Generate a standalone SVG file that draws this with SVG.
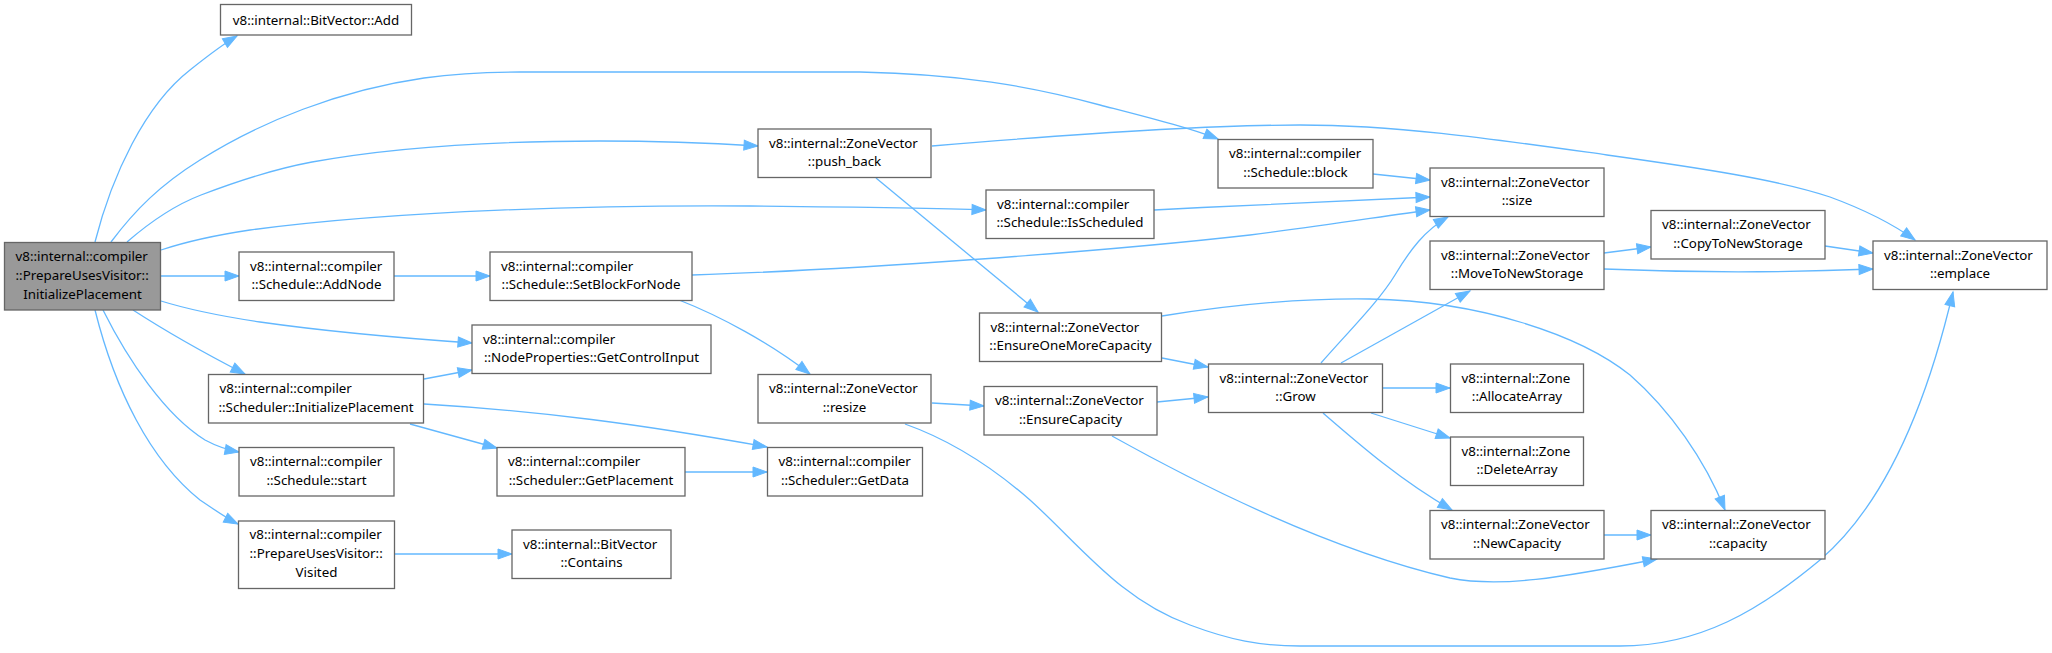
<svg xmlns="http://www.w3.org/2000/svg" width="2052" height="653" viewBox="0 0 2052 653">
<style>
rect.b{fill:#ffffff;stroke:#666666;stroke-width:1.3}
rect.m{fill:#999999;stroke:#666666;stroke-width:1.3}
text{font-family:"Noto Sans","DejaVu Sans",sans-serif;font-size:13.33px;fill:#000000}
text.c{text-anchor:middle}
#edges path{fill:none;stroke:#63b8ff;stroke-width:1.3;marker-end:url(#ah)}
</style>
<defs>
<marker id="ah" markerUnits="userSpaceOnUse" markerWidth="16" markerHeight="12" refX="14" refY="5" orient="auto" overflow="visible">
<path d="M0,0 L14,5 L0,10 Z" fill="#63b8ff" stroke="#63b8ff" stroke-width="1"/>
</marker>
</defs>
<rect width="2052" height="653" fill="#ffffff"/>
<g id="edges">
<path d="M95,242 C112,175 145,105 190,70 C205,58 220,46 237,36"/>
<path d="M111,242 C135,210 160,185 200,160 C260,122 340,90 424,78 C460,73 490,72 520,72 L860,72 C960,74 1030,86 1100,105 C1150,118 1190,128 1218,139"/>
<path d="M127,242 C150,222 175,205 201,195 C240,180 280,168 312,162 C400,146 500,141 600,141 C660,141 710,143 758,146"/>
<path d="M161,250 C185,242 210,236 250,230 C400,210 600,205 750,206 C850,207 930,208 986,210"/>
<path d="M161,276 L239,276"/>
<path d="M161,301 C190,310 220,316 260,322 C330,332 400,338 472,343"/>
<path d="M133,310 C170,334 210,356 245,374"/>
<path d="M103,310 C128,360 165,415 205,440 C218,447 228,450 239,452"/>
<path d="M95,310 C115,390 150,460 200,500 C215,510 226,518 238,524"/>
<path d="M394,276 L490,276"/>
<path d="M692,275 C850,270 1100,252 1250,235 C1330,225 1390,215 1430,210"/>
<path d="M679,300 C720,316 770,343 810,374"/>
<path d="M424,379 L472,370"/>
<path d="M424,404 C540,411 640,424 767,447"/>
<path d="M410,424 L497,448"/>
<path d="M685,472 L767,472"/>
<path d="M395,554 L512,554"/>
<path d="M932,146 C1050,136 1200,125 1300,125 C1400,125 1500,140 1607,155 C1700,168 1780,180 1830,197 C1860,208 1890,222 1915,240"/>
<path d="M876,178 L1038,312"/>
<path d="M1373,174 L1430,180"/>
<path d="M1154,210 C1250,205 1350,200 1430,197"/>
<path d="M1162,358 L1208,367"/>
<path d="M1162,316 C1230,305 1300,298 1370,299 C1480,301 1580,335 1630,375 C1670,410 1705,460 1725,510"/>
<path d="M932,403 L984,406"/>
<path d="M905,424 C950,440 990,465 1030,500 C1080,545 1120,600 1190,625 C1230,640 1260,646 1300,646 L1620,646 C1700,646 1760,610 1820,560 C1890,500 1930,390 1953,292"/>
<path d="M1157,402 L1208,397"/>
<path d="M1112,436 C1200,485 1330,550 1450,578 C1500,588 1560,578 1657,559"/>
<path d="M1321,363 C1350,330 1380,300 1395,275 C1410,250 1425,230 1448,217"/>
<path d="M1341,363 L1470,291"/>
<path d="M1383,388 L1450,388"/>
<path d="M1371,413 L1450,438"/>
<path d="M1323,413 C1360,445 1400,480 1452,510"/>
<path d="M1604,253 L1651,247"/>
<path d="M1604,269 C1700,273 1800,272 1873,269"/>
<path d="M1825,246 L1873,253"/>
<path d="M1604,535 L1651,535"/>
</g>
<g id="n_main"><rect class="m" x="4.5" y="242.5" width="156" height="67.5"/><text x="15.5" y="260.5">v8::internal::compiler</text><text x="15.5" y="279.5">::PrepareUsesVisitor::</text><text class="c" x="82.5" y="298.5">InitializePlacement</text></g>
<g id="n_add"><rect class="b" x="220.5" y="4.5" width="191" height="30.5"/><text class="c" x="316" y="24.5">v8::internal::BitVector::Add</text></g>
<g id="n_addnode"><rect class="b" x="239" y="252" width="155" height="48.5"/><text x="250" y="270.5">v8::internal::compiler</text><text class="c" x="316.5" y="289">::Schedule::AddNode</text></g>
<g id="n_setblock"><rect class="b" x="490" y="252" width="202" height="48.5"/><text x="501" y="270.5">v8::internal::compiler</text><text class="c" x="591" y="289">::Schedule::SetBlockForNode</text></g>
<g id="n_getctrl"><rect class="b" x="472" y="325" width="239" height="48.5"/><text x="483" y="343.5">v8::internal::compiler</text><text class="c" x="591.5" y="362">::NodeProperties::GetControlInput</text></g>
<g id="n_schedinit"><rect class="b" x="208.5" y="374.5" width="215" height="48.5"/><text x="219.5" y="393">v8::internal::compiler</text><text class="c" x="316" y="411.5">::Scheduler::InitializePlacement</text></g>
<g id="n_start"><rect class="b" x="239" y="447.5" width="155" height="48.5"/><text x="250" y="466">v8::internal::compiler</text><text class="c" x="316.5" y="484.5">::Schedule::start</text></g>
<g id="n_getplacement"><rect class="b" x="497" y="447.5" width="188" height="48.5"/><text x="508" y="466">v8::internal::compiler</text><text class="c" x="591" y="484.5">::Scheduler::GetPlacement</text></g>
<g id="n_visited"><rect class="b" x="238.5" y="521" width="156" height="67.5"/><text x="249.5" y="539">v8::internal::compiler</text><text x="249.5" y="558">::PrepareUsesVisitor::</text><text class="c" x="316.5" y="577">Visited</text></g>
<g id="n_contains"><rect class="b" x="512" y="530" width="159" height="48.5"/><text x="523" y="548.5">v8::internal::BitVector</text><text class="c" x="591.5" y="567">::Contains</text></g>
<g id="n_pushback"><rect class="b" x="758" y="129" width="173" height="48.5"/><text x="769" y="147.5">v8::internal::ZoneVector</text><text class="c" x="844.5" y="166">::push_back</text></g>
<g id="n_block"><rect class="b" x="1218" y="139.5" width="155" height="48.5"/><text x="1229" y="158">v8::internal::compiler</text><text class="c" x="1295.5" y="176.5">::Schedule::block</text></g>
<g id="n_isscheduled"><rect class="b" x="986" y="190" width="168" height="48.5"/><text x="997" y="208.5">v8::internal::compiler</text><text class="c" x="1070" y="227">::Schedule::IsScheduled</text></g>
<g id="n_ensureone"><rect class="b" x="979.5" y="313" width="182" height="48.5"/><text x="990.5" y="331.5">v8::internal::ZoneVector</text><text class="c" x="1070.5" y="350">::EnsureOneMoreCapacity</text></g>
<g id="n_resize"><rect class="b" x="758" y="374.5" width="173" height="48.5"/><text x="769" y="393">v8::internal::ZoneVector</text><text class="c" x="844.5" y="411.5">::resize</text></g>
<g id="n_ensurecap"><rect class="b" x="984" y="386.5" width="173" height="48.5"/><text x="995" y="405">v8::internal::ZoneVector</text><text class="c" x="1070.5" y="423.5">::EnsureCapacity</text></g>
<g id="n_getdata"><rect class="b" x="767.5" y="447.5" width="155" height="48.5"/><text x="778.5" y="466">v8::internal::compiler</text><text class="c" x="845" y="484.5">::Scheduler::GetData</text></g>
<g id="n_grow"><rect class="b" x="1208.5" y="364" width="174" height="48.5"/><text x="1219.5" y="382.5">v8::internal::ZoneVector</text><text class="c" x="1295.5" y="401">::Grow</text></g>
<g id="n_size"><rect class="b" x="1430" y="168" width="174" height="48.5"/><text x="1441" y="186.5">v8::internal::ZoneVector</text><text class="c" x="1517" y="205">::size</text></g>
<g id="n_move"><rect class="b" x="1430" y="241" width="174" height="48.5"/><text x="1441" y="259.5">v8::internal::ZoneVector</text><text class="c" x="1517" y="278">::MoveToNewStorage</text></g>
<g id="n_copy"><rect class="b" x="1651" y="210.5" width="174" height="48.5"/><text x="1662" y="229">v8::internal::ZoneVector</text><text class="c" x="1738" y="247.5">::CopyToNewStorage</text></g>
<g id="n_emplace"><rect class="b" x="1873" y="241" width="174" height="48.5"/><text x="1884" y="259.5">v8::internal::ZoneVector</text><text class="c" x="1960" y="278">::emplace</text></g>
<g id="n_alloc"><rect class="b" x="1450.5" y="364" width="133" height="48.5"/><text x="1461.5" y="382.5">v8::internal::Zone</text><text class="c" x="1517" y="401">::AllocateArray</text></g>
<g id="n_delete"><rect class="b" x="1450.5" y="437" width="133" height="48.5"/><text x="1461.5" y="455.5">v8::internal::Zone</text><text class="c" x="1517" y="474">::DeleteArray</text></g>
<g id="n_newcap"><rect class="b" x="1430" y="510.5" width="174" height="48.5"/><text x="1441" y="529">v8::internal::ZoneVector</text><text class="c" x="1517" y="547.5">::NewCapacity</text></g>
<g id="n_capacity"><rect class="b" x="1651" y="510.5" width="174" height="48.5"/><text x="1662" y="529">v8::internal::ZoneVector</text><text class="c" x="1738" y="547.5">::capacity</text></g>
</svg>
